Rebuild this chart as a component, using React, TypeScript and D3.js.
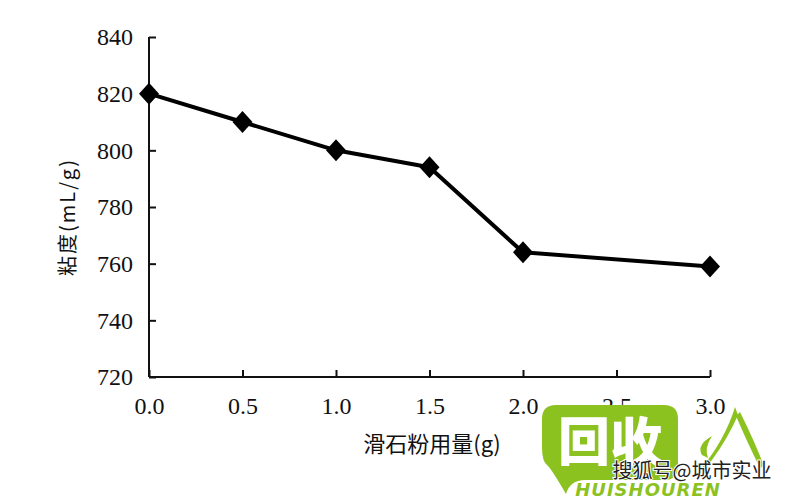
import React, { useEffect, useRef } from "react";
import * as d3 from "d3";

const xValues = [0.0, 0.5, 1.0, 1.5, 2.0, 3.0];
const viscosity = [820, 810, 800, 794, 764, 759];
const xTicks = [0.0, 0.5, 1.0, 1.5, 2.0, 2.5, 3.0];
const yTicks = [720, 740, 760, 780, 800, 820, 840];
const xTitle = "滑石粉用量(g)";
const yTitle = "粘度(mL/g)";

const W = 800;
const H = 500;

export default function App() {
  const ref = useRef<SVGSVGElement | null>(null);

  useEffect(() => {
    const svg = d3.select(ref.current);
    svg.selectAll("*").remove();

    const x = d3.scaleLinear().domain([0, 3]).range([149, 710]);
    const y = d3.scaleLinear().domain([720, 840]).range([377, 37]);
    const serif = "'Liberation Serif', 'DejaVu Serif', serif";

    // Y axis
    const yAxis = d3
      .axisLeft(y)
      .tickValues(yTicks)
      .tickSize(-7)
      .tickPadding(24)
      .tickFormat(d3.format("d"));
    const gy = svg.append("g").attr("transform", `translate(${x(0)},0)`).call(yAxis);
    gy.select(".domain").attr("stroke", "#111").attr("stroke-width", 2).attr("d", `M0,${y(840)}V${y(720)}`);
    gy.selectAll(".tick line").attr("stroke", "#111").attr("stroke-width", 2);
    gy.selectAll(".tick text")
      .attr("font-family", serif)
      .attr("font-size", 24)
      .attr("fill", "#111")
      .attr("text-anchor", "end")
      .attr("x", -16);

    // X axis
    const xAxis = d3
      .axisBottom(x)
      .tickValues(xTicks)
      .tickSize(-7)
      .tickPadding(20)
      .tickFormat(d3.format(".1f"));
    const gx = svg.append("g").attr("transform", `translate(0,${y(720)})`).call(xAxis);
    gx.select(".domain").attr("stroke", "#111").attr("stroke-width", 2).attr("d", `M${x(0)},0H${x(3)}`);
    gx.selectAll(".tick line").attr("stroke", "#111").attr("stroke-width", 2);
    gx.selectAll(".tick text")
      .attr("font-family", serif)
      .attr("font-size", 24)
      .attr("fill", "#111")
      .attr("y", 20)
      .attr("dy", "0.71em");

    // Titles
    svg
      .append("text")
      .attr("x", 432)
      .attr("y", 452)
      .attr("text-anchor", "middle")
      .attr("font-family", "'Noto Sans CJK SC', sans-serif")
      .attr("font-size", 22)
      .attr("fill", "#111")
      .text(xTitle);

    svg
      .append("text")
      .attr("transform", `translate(75,217) rotate(-90)`)
      .attr("text-anchor", "middle")
      .attr("font-family", "'Noto Sans CJK SC', sans-serif")
      .attr("font-size", 20)
      .attr("letter-spacing", 2)
      .attr("fill", "#111")
      .text(yTitle);

    // Line
    const data = xValues.map((v, i) => ({ x: v, y: viscosity[i] }));
    const line = d3
      .line<{ x: number; y: number }>()
      .x((d) => x(d.x))
      .y((d) => y(d.y));
    svg
      .append("path")
      .datum(data)
      .attr("d", line)
      .attr("fill", "none")
      .attr("stroke", "#000")
      .attr("stroke-width", 4)
      .attr("stroke-linejoin", "round");

    svg
      .selectAll(".pt")
      .data(data)
      .enter()
      .append("path")
      .attr("class", "pt")
      .attr("d", (d) => {
        const cx = x(d.x);
        const cy = y(d.y);
        return `M${cx},${cy - 11}L${cx + 10},${cy}L${cx},${cy + 11}L${cx - 10},${cy}Z`;
      })
      .attr("fill", "#000");

    // Watermark
    const wm = svg.append("g");
    const green = "#8cc21f";
    wm.append("path")
      .attr(
        "d",
        "M556,405 H664 Q678,405 678,419 V466 Q678,480 664,480 H585 Q570,480 566,494 Q552,470 548,466 Q542,462 542,448 V419 Q542,405 556,405 Z"
      )
      .attr("fill", green);
    wm.append("text")
      .attr("x", 610)
      .attr("y", 461)
      .attr("text-anchor", "middle")
      .attr("font-family", "'Noto Sans CJK SC', sans-serif")
      .attr("font-weight", 900)
      .attr("font-size", 52)
      .attr("fill", "#fff")
      .text("回收");
    // brush-like "人"
    wm.append("path")
      .attr("d", "M735,407 Q725,440 700,470 Q706,468 712,460 Q728,438 738,415 Z")
      .attr("fill", green);
    wm.append("path")
      .attr("d", "M736,416 Q748,444 760,468 L764,466 Q754,440 740,412 Z")
      .attr("fill", green);
    wm.append("path")
      .attr("d", "M702,455 Q696,445 712,436 Q704,448 708,458 Z")
      .attr("fill", green);
    wm.append("text")
      .attr("x", 692)
      .attr("y", 478)
      .attr("text-anchor", "middle")
      .attr("font-family", "'Noto Sans CJK SC', sans-serif")
      .attr("font-size", 20)
      .attr("fill", "#222")
      .attr("stroke", "#fff")
      .attr("stroke-width", 2)
      .attr("paint-order", "stroke")
      .text("搜狐号@城市实业");
    wm.append("text")
      .attr("x", 648)
      .attr("y", 496)
      .attr("text-anchor", "middle")
      .attr("font-family", "'DejaVu Sans', sans-serif")
      .attr("font-weight", "bold")
      .attr("font-style", "italic")
      .attr("font-size", 18)
      .attr("letter-spacing", 1)
      .attr("fill", green)
      .text("HUISHOUREN");
  }, []);

  return (
    <svg
      ref={ref}
      width={W}
      height={H}
      style={{ position: "absolute", left: 0, top: 0, background: "#fff" }}
    />
  );
}
